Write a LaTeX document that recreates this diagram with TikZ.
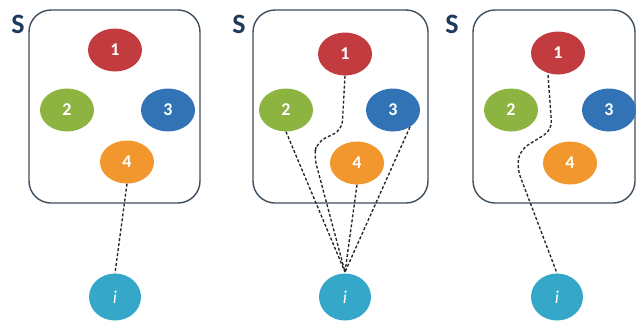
\documentclass[tikz,border=0pt]{standalone}
\usepackage{fontspec}
\setmainfont{Carlito}
\usetikzlibrary{shapes.geometric}
\definecolor{cred}{HTML}{C23B3E}
\definecolor{cgreen}{HTML}{8DB441}
\definecolor{cblue}{HTML}{3173B5}
\definecolor{corange}{HTML}{F2962E}
\definecolor{cteal}{HTML}{35A8C9}
\definecolor{cbox}{HTML}{3E4D5C}
\definecolor{cs}{HTML}{1F3B5C}
\tikzset{
  ball/.style={ellipse, minimum width=54pt, minimum height=43pt, inner sep=0pt, text=white, font=\fontsize{18}{18}\selectfont\bfseries},
  ibal/.style={ellipse, fill=cteal, minimum width=52pt, minimum height=47pt, inner sep=0pt, text=white, font=\fontsize{18}{18}\selectfont\itshape},
  setbox/.style={draw=cbox, line width=1.4pt, rounded corners=22pt},
  slabel/.style={text=cs, font=\fontsize{28}{28}\selectfont\bfseries, inner sep=0pt},
  conn/.style={draw=black!85, line width=1.35pt, dash pattern=on 3pt off 2pt}
}
\begin{document}
\begin{tikzpicture}[x=1pt,y=-1pt]
\useasboundingbox (0,0) rectangle (636,327);
% Panel 1
\draw[setbox] (29,10) rectangle (200,203);
\node[slabel] (s1) at (18,24) {S};
\node[ball, fill=cred] (a1) at (115,50) {1};
\node[ball, fill=cgreen] (a2) at (67,110) {2};
\node[ball, fill=cblue] (a3) at (168,110) {3};
\node[ball, fill=corange] (a4) at (127,162) {4};
\node[ibal] (ai) at (115,297) {i};
\draw[conn] (a4.south) -- (ai.north);
% Panel 2
\draw[setbox] (253,10) rectangle (428,203);
\node[slabel] (s2) at (239,24) {S};
\node[ball, fill=cred] (b1) at (345,54) {1};
\node[ball, fill=cgreen] (b2) at (286,110) {2};
\node[ball, fill=cblue] (b3) at (393,110) {3};
\node[ball, fill=corange] (b4) at (357,163) {4};
\node[ibal] (bi) at (345,297) {i};
\coordinate (m) at (345,272);
\draw[conn, rounded corners=9pt] (b1.south) -- (342,130) -- (317,142) -- (314,156) -- (m);
\draw[conn] (b2.south) -- (m);
\draw[conn] (b4.south) -- (m);
\draw[conn] (b3.-45) -- (m);
% Panel 3
\draw[setbox] (473,10) rectangle (635,203);
\node[slabel] (s3) at (452,24) {S};
\node[ball, fill=cred] (c1) at (558,53) {1};
\node[ball, fill=cgreen] (c2) at (511,110) {2};
\node[ball, fill=cblue] (c3) at (609,110) {3};
\node[ball, fill=corange] (c4) at (570,163) {4};
\node[ibal] (ci) at (557,297) {i};
\draw[conn, rounded corners=9pt] (548,75) -- (552,130) -- (520,150) -- (517,168) -- (ci.north);
\end{tikzpicture}
\end{document}
